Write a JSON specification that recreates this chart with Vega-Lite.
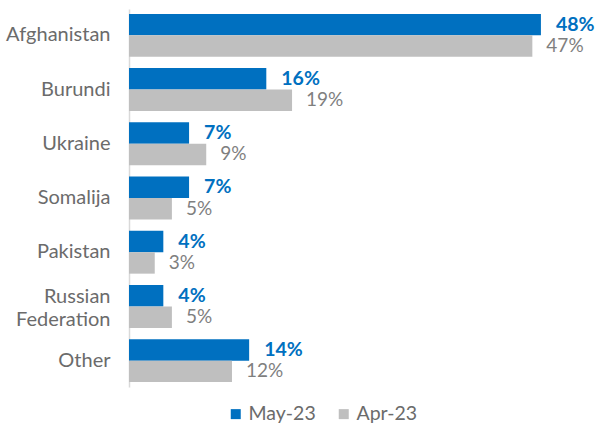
{
  "$schema": "https://vega.github.io/schema/vega-lite/v6.json",
  "autosize": "none",
  "padding": {"left": 129, "top": 9, "right": 0, "bottom": 36},
  "width": 472,
  "height": 378,
  "background": "white",
  "config": {
    "view": {"stroke": null},
    "font": "Lato",
    "text": {"font": "Lato"}
  },
  "data": {
    "values": [
      {"country": "Afghanistan", "series": "May-23", "value": 48},
      {"country": "Afghanistan", "series": "Apr-23", "value": 47},
      {"country": "Burundi", "series": "May-23", "value": 16},
      {"country": "Burundi", "series": "Apr-23", "value": 19},
      {"country": "Ukraine", "series": "May-23", "value": 7},
      {"country": "Ukraine", "series": "Apr-23", "value": 9},
      {"country": "Somalija", "series": "May-23", "value": 7},
      {"country": "Somalija", "series": "Apr-23", "value": 5},
      {"country": "Pakistan", "series": "May-23", "value": 4},
      {"country": "Pakistan", "series": "Apr-23", "value": 3},
      {"country": "Russian Federation", "series": "May-23", "value": 4},
      {"country": "Russian Federation", "series": "Apr-23", "value": 5},
      {"country": "Other", "series": "May-23", "value": 14},
      {"country": "Other", "series": "Apr-23", "value": 12}
    ]
  },
  "encoding": {
    "y": {
      "field": "country",
      "type": "nominal",
      "sort": null,
      "scale": {"paddingInner": 0.21, "paddingOuter": 0.09},
      "axis": {
        "title": null,
        "ticks": false,
        "domainColor": "#D9D9D9",
        "domainWidth": 1.5,
        "labelFont": "Lato",
        "labelFontSize": 20,
        "labelFontWeight": "normal",
        "labelColor": "#6B6B6B",
        "labelPadding": 19,
        "labelLineHeight": 23,
        "labelOffset": {"condition": {"test": "datum.value == 'Russian Federation'", "value": -9}, "value": 0},
        "labelExpr": "datum.value == 'Russian Federation' ? ['Russian', 'Federation'] : datum.value"
      }
    },
    "yOffset": {
      "field": "series",
      "type": "nominal",
      "sort": ["May-23", "Apr-23"],
      "scale": {"domain": ["May-23", "Apr-23"], "paddingInner": 0, "paddingOuter": 0}
    },
    "x": {
      "field": "value",
      "type": "quantitative",
      "scale": {"domain": [0, 55], "nice": false},
      "axis": null
    }
  },
  "layer": [
    {
      "mark": {"type": "bar"},
      "encoding": {
        "color": {
          "field": "series",
          "type": "nominal",
          "scale": {"domain": ["May-23", "Apr-23"], "range": ["#0070C0", "#BFBFBF"]},
          "legend": {
            "title": null,
            "orient": "none",
            "direction": "horizontal",
            "legendX": 97,
            "legendY": 395,
            "padding": 0,
            "symbolType": "square",
            "symbolSize": 100,
            "symbolStrokeWidth": 0,
            "labelFont": "Lato",
            "labelFontSize": 19.5,
            "labelFontWeight": "normal",
            "labelColor": "#6B6B6B",
            "labelOffset": 3,
            "columnPadding": 18
          }
        }
      }
    },
    {
      "transform": [{"filter": "datum.series == 'May-23'"}],
      "mark": {"type": "text", "align": "left", "baseline": "middle", "dx": 15, "fontSize": 19.5, "fontWeight": "bold", "color": "#0070C0", "font": "Lato", "text": {"expr": "datum.value + '%'"}}
    },
    {
      "transform": [{"filter": "datum.series == 'Apr-23'"}],
      "mark": {"type": "text", "align": "left", "baseline": "middle", "dx": 14, "fontSize": 19, "color": "#7F7F7F", "font": "Lato", "text": {"expr": "datum.value + '%'"}}
    }
  ]
}
